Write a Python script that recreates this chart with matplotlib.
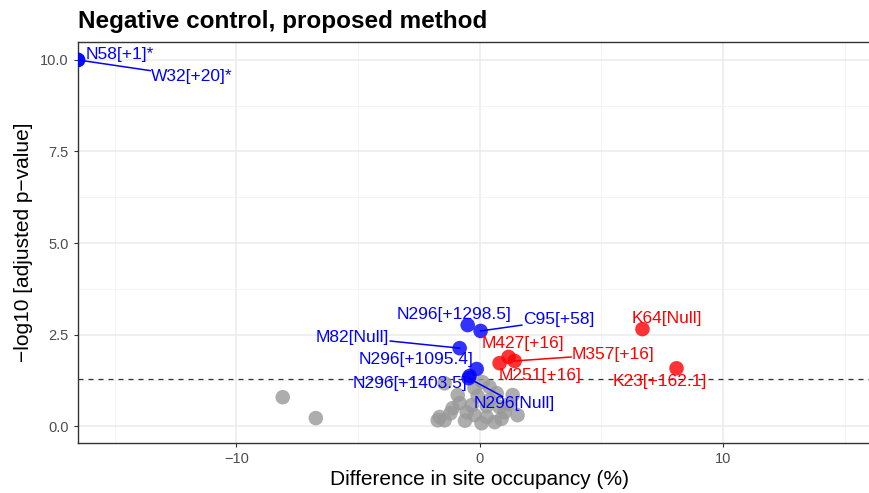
import matplotlib
matplotlib.use("Agg")
import matplotlib.pyplot as plt
import numpy as np

plt.rcParams['font.family'] = ['Liberation Sans', 'DejaVu Sans']

# ---- data ----
gray_x = [-8.09, -6.73, 0.12, -0.21, 0.41, 0.70, 1.36, 1.56, -0.82, -1.11,
          -1.64, -1.72, -0.53, -0.21, 0.29, 0.62, 0.08, 1.03, 0.82, -1.44,
          -0.90, -1.44, -0.33, 0.41, -0.08, -0.60, 0.30, 1.20, -1.20, 0.90]
gray_y = [0.79, 0.22, 1.20, 1.04, 1.07, 0.90, 0.85, 0.30, 0.63, 0.49,
          0.25, 0.16, 0.38, 0.30, 0.25, 0.11, 0.08, 0.38, 0.52, 1.17,
          0.85, 0.16, 0.57, 0.71, 0.82, 0.15, 0.55, 0.60, 0.35, 0.20]

blue_names = ['N58[+1]*', 'W32[+20]*', 'N296[+1298.5]', 'C95[+58]', 'M82[Null]',
              'N296[+1095.4]', 'N296[+1403.5]', 'N296[Null]']
blue_x = [-16.5, -16.5, -0.49, 0.04, -0.82, -0.12, -0.41, -0.45]
blue_y = [10.0, 10.0, 2.76, 2.60, 2.13, 1.56, 1.37, 1.31]
blue_lab_x = [-14.8, -11.82, -1.03, 3.24, -5.22, -2.63, -2.87, 1.44]
blue_lab_y = [10.14, 9.54, 3.06, 2.90, 2.43, 1.83, 1.17, 0.63]
blue_seg = [False, True, False, True, True, False, False, True]

red_names = ['M427[+16]', 'M357[+16]', 'M251[+16]', 'K64[Null]', 'K23[+162.1]']
red_x = [1.19, 1.44, 0.82, 6.69, 8.09]
red_y = [1.89, 1.78, 1.72, 2.65, 1.58]
red_lab_x = [1.77, 5.50, 2.50, 7.68, 7.39]
red_lab_y = [2.27, 1.97, 1.37, 2.95, 1.23]
red_seg = [False, True, False, False, False]

fig = plt.figure(figsize=(8.7, 4.93), dpi=100)
ax = fig.add_axes([78/870, 50/493, 802/870, 401/493])

# grid
ax.set_xticks([-10, 0, 10])
ax.set_xticks([-15, -5, 5, 15], minor=True)
ax.set_yticks([0, 2.5, 5, 7.5, 10])
ax.set_yticks([1.25, 3.75, 6.25, 8.75], minor=True)
ax.set_yticklabels(['0.0', '2.5', '5.0', '7.5', '10.0'])
ax.set_xticklabels(['\u221210', '0', '10'])
ax.grid(which='major', color='#ebebeb', lw=1.1, zorder=0)
ax.grid(which='minor', color='#f2f2f2', lw=0.6, zorder=0)
ax.set_axisbelow(True)

ax.axhline(-np.log10(0.05), color='#333333', ls=(0, (4, 4)), lw=0.9, zorder=1)

ax.scatter(gray_x, gray_y, s=110, color='#999999', alpha=0.8, edgecolors='none', zorder=2)
ax.scatter(red_x, red_y, s=110, color='#ff0000', alpha=0.8, edgecolors='none', zorder=3)
ax.scatter(blue_x, blue_y, s=110, color='#0000ff', alpha=0.8, edgecolors='none', zorder=3)

ax.set_xlim(-16.5, 16.45)
ax.set_ylim(-0.46, 10.49)

texts = []
def put_labels(names, xs, ys, lx, ly, seg, col):
    for n, x, y, tx, ty, s in zip(names, xs, ys, lx, ly, seg):
        t = ax.text(tx, ty, n, color=col, fontsize=12.5, ha='center', va='center', zorder=5)
        texts.append((t, x, y, s, col))

put_labels(blue_names, blue_x, blue_y, blue_lab_x, blue_lab_y, blue_seg, '#0000ff')
put_labels(red_names, red_x, red_y, red_lab_x, red_lab_y, red_seg, '#ff0000')

# ggrepel-like segments: from the point toward label centre, stopped at the label box
fig.canvas.draw()
rend = fig.canvas.get_renderer()
inv = ax.transData.inverted()
for t, x, y, s, col in texts:
    if not s:
        continue
    bb = t.get_window_extent(rend)
    px, py = ax.transData.transform((x, y))
    cx, cy = (bb.x0 + bb.x1) / 2, (bb.y0 + bb.y1) / 2
    hw, hh = (bb.x1 - bb.x0) / 2 + 1, (bb.y1 - bb.y0) / 2 - 1
    dx, dy = px - cx, py - cy
    k = min(hw / abs(dx) if dx else np.inf, hh / abs(dy) if dy else np.inf)
    ex, ey = cx + dx * k, cy + dy * k
    (x2, y2) = inv.transform((ex, ey))
    ax.plot([x, x2], [y, y2], color=col, lw=1.1, zorder=4)

for sp in ax.spines.values():
    sp.set_color('#333333')
    sp.set_linewidth(1.0)

ax.tick_params(which='major', length=3, width=0.8, color='#333333',
               labelcolor='#4d4d4d', labelsize=10.5)
ax.tick_params(which='minor', length=0)

ax.set_xlabel('Difference in site occupancy (%)', fontsize=15, labelpad=3)
ax.set_ylabel('\u2212log10 [adjusted p\u2212value]', fontsize=15, labelpad=5)
ax.set_title('Negative control, proposed method', fontsize=17.5, fontweight='bold',
             loc='left', pad=10)

fig.savefig('out.png', dpi=100)
